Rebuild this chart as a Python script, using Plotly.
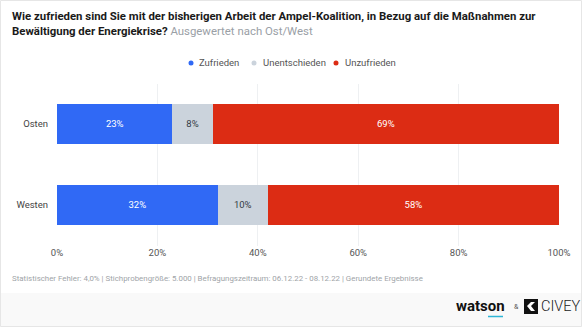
import plotly.graph_objects as go

W, H = 582, 327

categories = ["Osten", "Westen"]
series_names = ["Zufrieden", "Unentschieden", "Unzufrieden"]
zufrieden = [23, 32]
unentschieden = [8, 10]
unzufrieden = [69, 58]
tick_vals = [0, 20, 40, 60, 80, 100]
tick_text = ["0%", "20%", "40%", "60%", "80%", "100%"]

colors = ["#3069f5", "#cbd3dc", "#dc2c14"]
text_colors = ["#ffffff", "#333b45", "#ffffff"]

def px(x):
    return x / W

def py(y):
    return 1 - y / H

fig = go.Figure()
for name, vals, c, tc in zip(series_names, [zufrieden, unentschieden, unzufrieden], colors, text_colors):
    fig.add_trace(go.Bar(
        y=categories, x=vals, name=name, orientation="h",
        marker=dict(color=c, line=dict(width=0)),
        text=[f"{v}%" for v in vals], textposition="inside", insidetextanchor="middle",
        textfont=dict(color=tc, size=9.5, family="Roboto"),
        width=0.49, showlegend=False, hoverinfo="skip",
    ))

fig.update_layout(
    barmode="stack",
    width=W, height=H,
    margin=dict(l=0, r=0, t=0, b=0, autoexpand=False),
    paper_bgcolor="white", plot_bgcolor="white",
    font=dict(family="Roboto", color="#444"),
    xaxis=dict(domain=[px(57), px(559)], range=[0, 100], tickvals=tick_vals, ticktext=tick_text,
               showgrid=True, gridcolor="#eef0f2", gridwidth=1, zeroline=False, automargin=False,
               tickfont=dict(size=9.5, color="#555"), ticks="", showline=False, fixedrange=True),
    yaxis=dict(domain=[py(245.5), py(83.5)], autorange="reversed", showgrid=False, automargin=False,
               tickfont=dict(size=9.5, color="#444"), ticks="", ticklabelstandoff=8, fixedrange=True),
    uniformtext=dict(minsize=8, mode="show"),
)

shapes = []
# footer band
shapes.append(dict(type="rect", xref="paper", yref="paper", x0=0, x1=1, y0=0, y1=py(293),
                   fillcolor="#f9f9f9", line=dict(width=0), layer="below"))
# card border
shapes.append(dict(type="rect", xref="paper", yref="paper", x0=px(0.5), x1=px(581.5), y0=py(326.5), y1=py(0.5),
                   fillcolor="rgba(0,0,0,0)", line=dict(color="#e6e6e6", width=1)))

annotations = []
annotations.append(dict(
    xref="paper", yref="paper", x=px(10), y=py(7), xanchor="left", yanchor="top", align="left",
    showarrow=False,
    text="<b>Wie zufrieden sind Sie mit der bisherigen Arbeit der Ampel-Koalition, in Bezug auf die Maßnahmen zur<br>"
         "Bewältigung der Energiekrise?</b> <span style='color:#9aa0a6'>Ausgewertet nach Ost/West</span>",
    font=dict(size=11.4, color="#1a1a1a", family="Roboto"),
))

# legend
legend_items = [(191, 197, "Zufrieden", colors[0]), (254, 261, "Unentschieden", colors[1]), (336, 343, "Unzufrieden", colors[2])]
for dx, tx, label, c in legend_items:
    shapes.append(dict(type="circle", xref="paper", yref="paper", x0=px(dx - 2.5), x1=px(dx + 2.5),
                       y0=py(63 + 2.5), y1=py(63 - 2.5), fillcolor=c, line=dict(width=0)))
    annotations.append(dict(xref="paper", yref="paper", x=px(tx), y=py(63), xanchor="left", yanchor="middle",
                            showarrow=False, text=label, font=dict(size=9.5, color="#555", family="Roboto")))

# footnote
annotations.append(dict(
    xref="paper", yref="paper", x=px(10), y=py(278), xanchor="left", yanchor="middle", showarrow=False,
    text="Statistischer Fehler: 4,0% | Stichprobengröße: 5.000 | Befragungszeitraum: 06.12.22 - 08.12.22 | Gerundete Ergebnisse",
    font=dict(size=7.9, color="#a0a4a8", family="Roboto"),
))

# logos
annotations.append(dict(xref="paper", yref="paper", x=px(480), y=py(306), xanchor="center", yanchor="middle",
                        showarrow=False, text="<b>watson</b>", font=dict(size=15, color="#111", family="Roboto")))
shapes.append(dict(type="line", xref="paper", yref="paper", x0=px(488), x1=px(503), y0=py(316.5), y1=py(316.5),
                   line=dict(color="#2fb6d6", width=1.5)))
annotations.append(dict(xref="paper", yref="paper", x=px(516), y=py(307), xanchor="center", yanchor="middle",
                        showarrow=False, text="&", font=dict(size=7, color="#555", family="Roboto")))
shapes.append(dict(type="rect", xref="paper", yref="paper", x0=px(524), x1=px(538), y0=py(314), y1=py(299),
                   fillcolor="#111", line=dict(width=0)))
shapes.append(dict(type="path", xref="paper", yref="paper",
                   path=f"M {px(527)},{py(306)} L {px(531)},{py(302)} L {px(535)},{py(302)} L {px(531)},{py(306)} L {px(535)},{py(311)} L {px(531)},{py(311)} Z",
                   fillcolor="#ffffff", line=dict(width=0)))
annotations.append(dict(xref="paper", yref="paper", x=px(539), y=py(306.5), xanchor="left", yanchor="middle",
                        showarrow=False, text="CIVEY", font=dict(size=14.5, color="#1a1a1a", family="Roboto", weight=300)))

fig.update_layout(shapes=shapes, annotations=annotations)
fig.write_html("out.html")
